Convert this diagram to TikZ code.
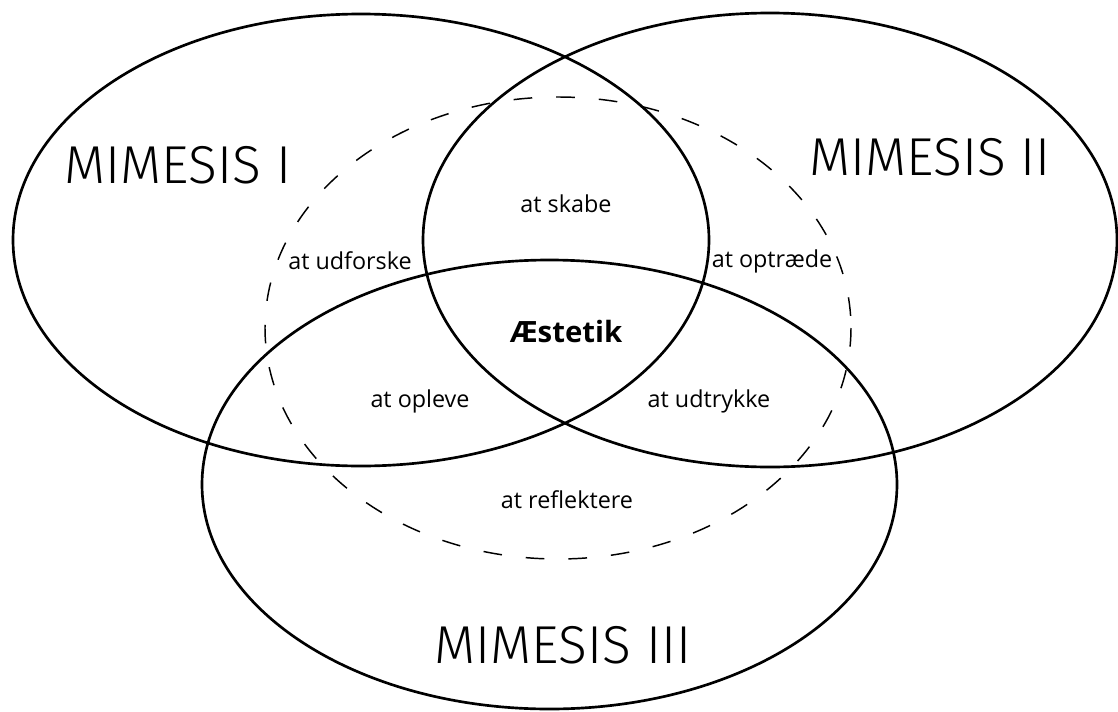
\documentclass[tikz,border=0pt]{standalone}
\usepackage{fontspec}
\setmainfont{Open Sans}
\newfontfamily\thinsans{Fira Sans Light}
\begin{document}
\begin{tikzpicture}[x=0.75pt,y=-0.75pt,
  ring/.style={draw=black, line width=2pt},
  guide/.style={draw=black, line width=1.1pt, dash pattern=on 14pt off 18pt},
  big/.style={font=\thinsans\fontsize{40}{40}\selectfont, inner sep=0pt},
  small/.style={font=\fontsize{17.5}{18}\selectfont, inner sep=0pt},
  core/.style={font=\bfseries\fontsize{22}{22}\selectfont, inner sep=0pt}]
\useasboundingbox (0,0) rectangle (1118,711);
% three overlapping fields
\draw[ring] (361,240) ellipse [x radius=348, y radius=226];
\draw[ring] (770,240) ellipse [x radius=347, y radius=227];
\draw[ring] (549.5,484.5) ellipse [x radius=347.5, y radius=224.5];
% dashed field of activities
\draw[guide] (558,328) ellipse [x radius=293, y radius=231];
% labels
\node[big] (m1) at (178,165) {MIMESIS I};
\node[big] (m2) at (930,157) {MIMESIS II};
\node[big] (m3) at (563,645) {MIMESIS III};
\node[small] (skabe) at (566,204) {at skabe};
\node[small] (udforske) at (350,261) {at udforske};
\node[small] (optraede) at (772,261) {at optræde};
\node[core] (aestetik) at (566,331) {Æstetik};
\node[small] (opleve) at (420,401) {at opleve};
\node[small] (udtrykke) at (709,401) {at udtrykke};
\node[small] (reflektere) at (567,500) {at reflektere};
\end{tikzpicture}
\end{document}
